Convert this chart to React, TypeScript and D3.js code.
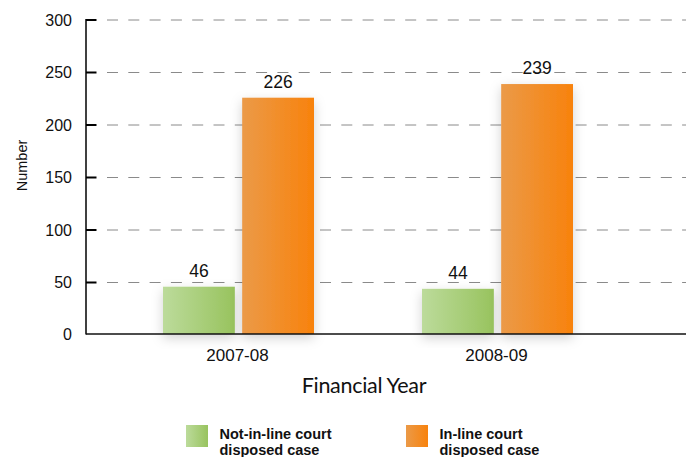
import React from "react";
import * as d3 from "d3";

const categories = ["2007-08", "2008-09"];
const seriesNames = ["Not-in-line court disposed case", "In-line court disposed case"];
const legendLines = [["Not-in-line court", "disposed case"], ["In-line court", "disposed case"]];
const notInLine = [46, 44];
const inLine = [226, 239];
const yTicks = [0, 50, 100, 150, 200, 250, 300];

const W = 686, H = 457;
const axisX = 86, axisY = 334;

export default function App() {
  const y = d3.scaleLinear().domain([0, 300]).range([335, 20]);
  const x0 = d3.scaleBand<string>().domain(categories).range([109, 627]).paddingInner(0).paddingOuter(0);
  const step = x0.bandwidth();
  const groupW = 151;
  const x1 = d3.scaleBand<number>().domain([0, 1]).range([(step - groupW) / 2, (step + groupW) / 2]).paddingInner(7 / 75.5).paddingOuter(0);
  const series = [notInLine, inLine];
  const grads = ["gGreen", "gOrange"];
  const font = "Liberation Sans, Arial, Helvetica, sans-serif";
  return (
    <svg width={W} height={H} style={{ position: "absolute", left: 0, top: 0, background: "#fff" }} fontFamily={font}>
      <defs>
        <linearGradient id="gGreen" x1="0" x2="1" y1="0" y2="0">
          <stop offset="0" stopColor="#bcdb9b" />
          <stop offset="1" stopColor="#98c35e" />
        </linearGradient>
        <linearGradient id="gOrange" x1="0" x2="1" y1="0" y2="0">
          <stop offset="0" stopColor="#eb9a48" />
          <stop offset="1" stopColor="#f8820c" />
        </linearGradient>
        <filter id="shadow" x="-30%" y="-30%" width="160%" height="160%">
          <feDropShadow dx="0" dy="4" stdDeviation="6" floodColor="#000" floodOpacity="0.18" />
        </filter>
      </defs>
      <rect width={W} height={H} fill="#fff" />
      {yTicks.filter(t => t > 0).map(t => (
        <line key={t} x1={107} x2={W} y1={y(t)} y2={y(t)} stroke="#8a8a8a" strokeWidth={1} strokeDasharray="11,10.3" />
      ))}
      {categories.map((c, ci) => (
        <g key={c} transform={`translate(${x0(c)},0)`}>
          {series.map((s, si) => (
            <rect key={si} x={x1(si)} width={x1.bandwidth()} y={y(s[ci])} height={axisY - y(s[ci])}
              fill={`url(#${grads[si]})`} filter="url(#shadow)" />
          ))}
          {series.map((s, si) => (
            <text key={"l" + si} x={(x1(si) as number) + x1.bandwidth() / 2} y={y(s[ci]) - 10}
              textAnchor="middle" fontSize={17.5} fill="#111">{s[ci]}</text>
          ))}
          <text x={step / 2 - 1} y={360.5} textAnchor="middle" fontSize={17} fill="#111">{c}</text>
        </g>
      ))}
      <line x1={axisX} x2={axisX} y1={19} y2={axisY + 0.5} stroke="#000" strokeWidth={1.5} />
      <line x1={axisX} x2={W} y1={axisY} y2={axisY} stroke="#111" strokeWidth={1.5} />
      {yTicks.map(t => (
        <g key={t}>
          {t > 0 && <line x1={axisX} x2={96.5} y1={y(t)} y2={y(t)} stroke="#000" strokeWidth={2} />}
          <text x={72} y={(t === 0 ? axisY : y(t)) + 5.5} textAnchor="end" fontSize={16} fill="#111">{t}</text>
        </g>
      ))}
      <text transform="translate(26.5,165.5) rotate(-90)" textAnchor="middle" fontSize={14.5} fill="#111">Number</text>
      <text x={364} y={393} textAnchor="middle" fontSize={21.5} fill="#111" fontFamily="Lato, sans-serif" letterSpacing={-0.3}>Financial Year</text>
      {seriesNames.map((n, i) => {
        const lx = i === 0 ? 186 : 406;
        return (
          <g key={n}>
            <rect x={lx} y={425} width={22} height={22} fill={`url(#${grads[i]})`} />
            <text x={lx + 33.5} y={438.5} fontSize={14.5} fontWeight="bold" fill="#111">{legendLines[i][0]}</text>
            <text x={lx + 33.5} y={454.5} fontSize={14.5} fontWeight="bold" fill="#111">{legendLines[i][1]}</text>
          </g>
        );
      })}
    </svg>
  );
}
